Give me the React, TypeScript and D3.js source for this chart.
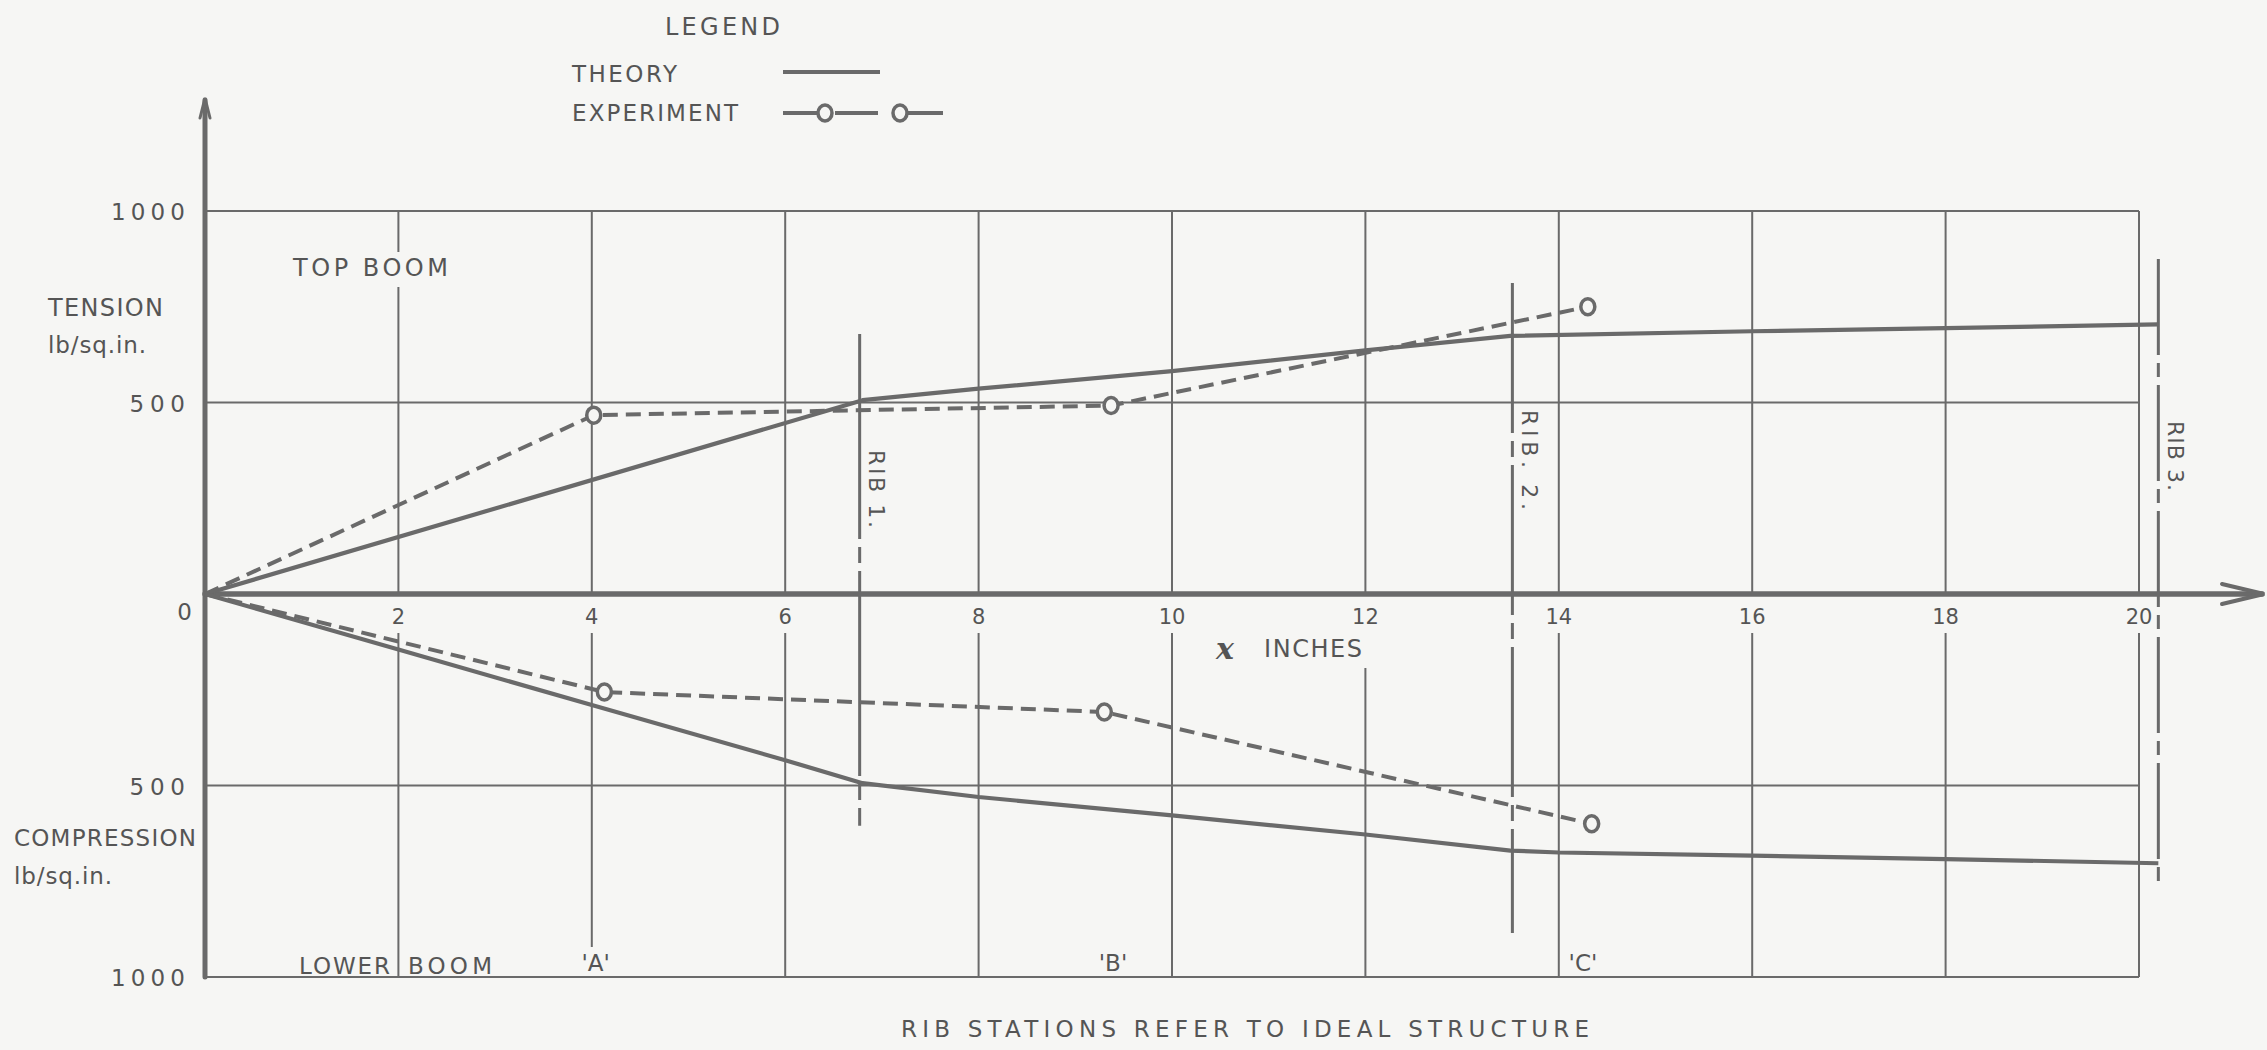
import * as d3 from "d3";

const W = 2267;
const H = 1050;
const INK = "#6a6a6a";
const TEXT = "#555555";
const PAPER = "#f6f6f4";
const FONT = "'DejaVu Sans', 'Liberation Sans', sans-serif";

// x in inches, stress in lb/sq.in. (tension positive, compression negative)
const X_TICKS = [2, 4, 6, 8, 10, 12, 14, 16, 18, 20];
const Y_GRID = [1000, 500, -500, -1000];
const Y_LABELS = ["1000", "500", "500", "1000"];

const theoryTopX = [0, 6.8, 8, 10, 12, 13.5, 16, 18, 20.2];
const theoryTopY = [0, 506, 536, 582, 636, 674, 686, 694, 704];
const theoryLowX = [0, 2, 4, 6, 6.8, 8, 10, 12, 13.5, 14, 16, 18, 20.2];
const theoryLowY = [0, -145, -290, -434, -494, -530, -578, -628, -670, -675, -683, -692, -703];

const expTopX = [0, 4.02, 9.37, 14.3];
const expTopY = [0, 467, 492, 750];
const expLowX = [0, 4.13, 9.3, 14.34];
const expLowY = [0, -256, -308, -600];

const RIB_X = [6.77, 13.52, 20.2];
const RIB_TOP = [679, 812, 875];
const RIB_BOTTOM = [-605, -885, -762];
const RIB_NAMES = ["RIB 1.", "RIB. 2.", "RIB 3."];
const RIB_DASH = ["205 8 16 8", "150 8 16 8", "96 8 14 8"];

const STATION_X = [4.04, 9.39, 14.25];
const STATION_NAMES = ["'A'", "'B'", "'C'"];

const x = d3.scaleLinear().domain([0, 20]).range([205, 2139]);
const y = d3.scaleLinear().domain([-1000, 1000]).range([977, 211]);

const line = d3
  .line<[number, number]>()
  .x((d) => x(d[0]))
  .y((d) => y(d[1]));

const zip = (xs: number[], ys: number[]) => xs.map((v, i) => [v, ys[i]] as [number, number]);

function Label({ x: lx, y: ly, children, size = 23, anchor = "start", len, rotate }: any) {
  return (
    <text
      x={lx}
      y={ly}
      fill={TEXT}
      fontFamily={FONT}
      fontSize={size}
      textAnchor={anchor}
      dominantBaseline="central"
      textLength={len}
      lengthAdjust={len ? "spacing" : undefined}
      transform={rotate ? `rotate(90 ${lx} ${ly})` : undefined}
    >
      {children}
    </text>
  );
}

export default function App() {
  const y0 = y(0);
  const experiments = [zip(expTopX, expTopY), zip(expLowX, expLowY)];
  const theories = [zip(theoryTopX, theoryTopY), zip(theoryLowX, theoryLowY)];

  return (
    <svg
      width={W}
      height={H}
      viewBox={`0 0 ${W} ${H}`}
      style={{ position: "absolute", left: 0, top: 0, display: "block" }}
    >
      <rect width={W} height={H} fill={PAPER} />

      {/* grid */}
      <g stroke={INK} strokeWidth={2}>
        {Y_GRID.map((v) => (
          <line key={v} x1={x(0)} x2={x(20)} y1={y(v)} y2={y(v)} />
        ))}
        {X_TICKS.map((t) => {
          const lowStart = t === 12 ? y0 + 74 : y0 + 39;
          const lowEnd = t === 4 ? y(-1000) - 30 : y(-1000);
          const upper =
            t === 2
              ? [
                  [y(1000), 252],
                  [287, y0],
                ]
              : [[y(1000), y0]];
          return (
            <g key={t}>
              {upper.map(([a, b], i) => (
                <line key={i} x1={x(t)} x2={x(t)} y1={a} y2={b} />
              ))}
              <line x1={x(t)} x2={x(t)} y1={lowStart} y2={lowEnd} />
            </g>
          );
        })}
      </g>

      {/* rib stations */}
      <g stroke={INK} strokeWidth={3}>
        {RIB_X.map((r, i) => (
          <line
            key={r}
            x1={x(r)}
            x2={x(r)}
            y1={y(RIB_TOP[i])}
            y2={y(RIB_BOTTOM[i])}
            strokeDasharray={RIB_DASH[i]}
          />
        ))}
      </g>

      {/* axes */}
      <g stroke={INK} fill="none" strokeLinecap="round">
        <line x1={x(0)} x2={x(0)} y1={y(-1000)} y2={100} strokeWidth={5} />
        <path d={`M${x(0) - 5},${118} L${x(0)},${98} L${x(0) + 5},${118}`} strokeWidth={3} />
        <line x1={x(0)} x2={2262} y1={y0} y2={y0} strokeWidth={5.5} />
        <path d={`M2222,${y0 - 10} L2264,${y0} L2222,${y0 + 10}`} strokeWidth={4} />
      </g>

      {/* theory */}
      <g fill="none" stroke={INK} strokeWidth={4.2} strokeLinejoin="round">
        {theories.map((d, i) => (
          <path key={i} d={line(d) || ""} />
        ))}
      </g>

      {/* experiment */}
      <g fill="none" stroke={INK} strokeWidth={4}>
        {experiments.map((d, i) => (
          <path key={i} d={line(d) || ""} strokeDasharray="15 8" />
        ))}
        {experiments.map((d, i) =>
          d.slice(1).map((p, j) => (
            <ellipse
              key={`${i}-${j}`}
              cx={x(p[0])}
              cy={y(p[1])}
              rx={7}
              ry={8}
              fill={PAPER}
              strokeWidth={3.5}
            />
          ))
        )}
      </g>

      {/* legend */}
      <Label x={665} y={27} size={24} len={115}>LEGEND</Label>
      <Label x={572} y={74} size={23} len={105}>THEORY</Label>
      <Label x={572} y={113} size={23} len={166}>EXPERIMENT</Label>
      <g stroke={INK} fill="none">
        <line x1={783} x2={880} y1={72} y2={72} strokeWidth={4} />
        <line x1={783} x2={817} y1={113} y2={113} strokeWidth={4} />
        <line x1={835} x2={878} y1={113} y2={113} strokeWidth={4} />
        <line x1={908} x2={943} y1={113} y2={113} strokeWidth={4} />
        <ellipse cx={825} cy={113} rx={7} ry={8} strokeWidth={3.5} fill={PAPER} />
        <ellipse cx={900} cy={113} rx={7} ry={8} strokeWidth={3.5} fill={PAPER} />
      </g>

      {/* y tick labels */}
      {Y_GRID.map((v, i) => (
        <Label key={v} x={185} y={y(v) + 1} anchor="end" size={23} len={Y_LABELS[i].length * 18.5}>
          {Y_LABELS[i]}
        </Label>
      ))}
      <Label x={192} y={612} anchor="end" size={23}>0</Label>

      {/* x tick labels */}
      {X_TICKS.map((t) => (
        <Label key={t} x={x(t)} y={617} anchor="middle" size={21}>
          {t}
        </Label>
      ))}
      <text
        x={1225}
        y={648}
        fill={TEXT}
        fontFamily="'DejaVu Serif', serif"
        fontStyle="italic"
        fontSize={30}
        fontWeight="bold"
        textAnchor="middle"
        dominantBaseline="central"
      >
        x
      </text>
      <Label x={1264} y={649} size={24} len={98}>INCHES</Label>

      {/* axis titles */}
      <Label x={48} y={308} size={24} len={115}>TENSION</Label>
      <Label x={48} y={345} size={23} len={98}>lb/sq.in.</Label>
      <Label x={14} y={838} size={23} len={182}>COMPRESSION</Label>
      <Label x={14} y={876} size={23} len={98}>lb/sq.in.</Label>

      <Label x={293} y={268} size={24} len={155}>TOP   BOOM</Label>
      <Label x={299} y={966} size={23} len={91}>LOWER</Label>
      <Label x={408} y={966} size={23} len={84}>BOOM</Label>

      {STATION_X.map((s, i) => (
        <Label key={s} x={x(s)} y={963} anchor="middle" size={23}>
          {STATION_NAMES[i]}
        </Label>
      ))}

      {/* rib labels */}
      {RIB_X.map((r, i) => (
        <Label
          key={r}
          x={x(r) + 17}
          y={[489, 460, 456][i]}
          anchor="middle"
          size={22}
          rotate
          len={[78, 100, 70][i]}
        >
          {RIB_NAMES[i]}
        </Label>
      ))}

      <Label x={901} y={1029} size={23} len={688}>
        RIB  STATIONS  REFER  TO  IDEAL  STRUCTURE
      </Label>
    </svg>
  );
}
